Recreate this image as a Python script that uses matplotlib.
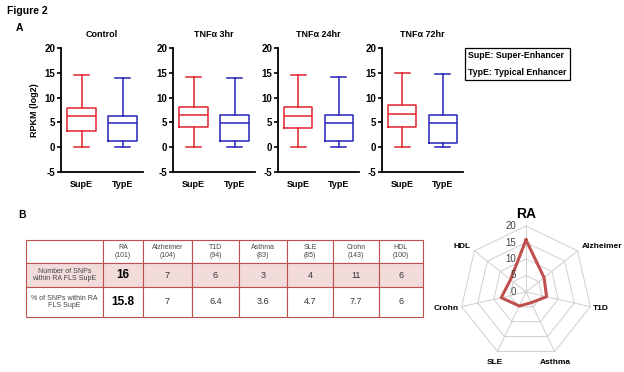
import numpy as np
import matplotlib
matplotlib.use("Agg")
import matplotlib.pyplot as plt

plt.rcParams['font.family'] = ['Liberation Sans', 'DejaVu Sans']
plt.rcParams['axes.unicode_minus'] = False

W, H = 624, 372

# ---- panel A data ----
panel_titles = ["Control", "TNF\u03b1 3hr", "TNF\u03b1 24hr", "TNF\u03b1 72hr"]
groups = ["SupE", "TypE"]
# [whislo, q1, med, q3, whishi] per panel, per group
supe_stats = [[0, 3.2, 6.2, 7.9, 14.5],
              [0, 4.1, 6.4, 8.1, 14.1],
              [0, 3.9, 6.3, 8.2, 14.6],
              [0, 4.0, 6.7, 8.5, 14.9]]
type_stats = [[0, 1.2, 4.8, 6.3, 14.0],
              [0, 1.3, 4.8, 6.4, 13.9],
              [0, 1.3, 4.9, 6.5, 14.1],
              [0, 0.9, 4.8, 6.5, 14.8]]

# ---- panel B data ----
diseases = ["RA", "Alzheimer", "T1D", "Asthma", "SLE", "Crohn", "HDL"]
n_snps_total = [101, 104, 94, 83, 85, 143, 100]
n_snps_supe = [16, 7, 6, 3, 4, 11, 6]
pct_snps_supe = ["15.8", "7", "6.4", "3.6", "4.7", "7.7", "6"]
radar_values = [15.8, 7, 6.4, 3.6, 4.7, 7.7, 6]
radar_ticks = [0, 5, 10, 15, 20]

red = "#e0222e"
blue = "#2424b8"
pink = "#f2dcdb"
border = "#c0504d"


def px_axes(fig, x0, y0, x1, y1, **kw):
    return fig.add_axes([x0 / W, 1 - y1 / H, (x1 - x0) / W, (y1 - y0) / H], **kw)


fig = plt.figure(figsize=(W / 100, H / 100), dpi=100)

fig.text(7 / W, 1 - 11 / H, "Figure 2", fontsize=7.5, fontweight="bold", va="center")
fig.text(16 / W, 1 - 28 / H, "A", fontsize=7.5, fontweight="bold", va="center")
fig.text(18 / W, 1 - 215 / H, "B", fontsize=7.5, fontweight="bold", va="center")

# ---- box plots ----
ax_x = [(61, 143), (173, 255), (278, 359), (382, 463)]
for i, (x0, x1) in enumerate(ax_x):
    ax = px_axes(fig, x0, 48, x1, 172)
    stats = []
    for st, lab in zip([supe_stats[i], type_stats[i]], groups):
        stats.append(dict(whislo=st[0], q1=st[1], med=st[2], q3=st[3], whishi=st[4],
                          label=lab, fliers=[]))
    bp = ax.bxp(stats, positions=[1, 2], widths=0.7, showfliers=False,
                capwidths=0.37, patch_artist=False)
    for j, c in enumerate([red, blue]):
        bp["boxes"][j].set(color=c, linewidth=1.1)
        bp["medians"][j].set(color=c, linewidth=1.1)
        for k in (2 * j, 2 * j + 1):
            bp["whiskers"][k].set(color=c, linewidth=1.1)
            bp["caps"][k].set(color=c, linewidth=1.1)
    ax.set_xlim(0.5, 2.5)
    ax.set_ylim(-5, 20)
    ax.set_yticks([-5, 0, 5, 10, 15, 20])
    ax.spines["top"].set_visible(False)
    ax.spines["right"].set_visible(False)
    ax.spines["left"].set_linewidth(1.3)
    ax.spines["bottom"].set_linewidth(1.3)
    ax.tick_params(axis="y", length=3, width=1.2, pad=1, labelsize=7)
    ax.tick_params(axis="x", length=0, pad=6, labelsize=6.5)
    for t in ax.get_xticklabels() + ax.get_yticklabels():
        t.set_fontweight("bold")
    ax.set_title(panel_titles[i], fontsize=6.5, fontweight="bold", pad=8)
    if i == 0:
        ax.set_ylabel("RPKM (log2)", fontsize=6.5, fontweight="bold", labelpad=4)

# legend box
fig.text(468 / W, 1 - 64 / H, "SupE: Super-Enhancer\n\nTypE: Typical Enhancer",
         fontsize=6.3, fontweight="bold", va="center", ha="left", linespacing=0.95,
         bbox=dict(boxstyle="square,pad=0.35", fc="white", ec="black", lw=0.9))

# ---- table ----
tax = px_axes(fig, 26, 240, 423, 317)
tax.axis("off")
header = [""] + [f"{d}\n({n})" for d, n in zip(diseases, n_snps_total)]
row1 = ["Number of SNPs\nwithin RA FLS SupE"] + [str(v) for v in n_snps_supe]
row2 = ["% of SNPs within RA\nFLS SupE"] + pct_snps_supe
col_px = [77, 40, 49, 47, 48, 46, 46, 44]
tbl = tax.table(cellText=[header, row1, row2], bbox=[0, 0, 1, 1],
                colWidths=[c / sum(col_px) for c in col_px], cellLoc="center")
tbl.auto_set_font_size(False)
row_h = [23, 24, 30]
for (r, c), cell in tbl.get_celld().items():
    cell.set_edgecolor(border)
    cell.set_linewidth(0.8)
    cell.set_height(row_h[r] / sum(row_h))
    txt = cell.get_text()
    txt.set_color("#333333")
    txt.set_linespacing(1.1)
    if r == 1:
        cell.set_facecolor(pink)
    if r == 0 or c == 0:
        txt.set_fontsize(5)
        txt.set_color("#444444")
    else:
        txt.set_fontsize(6.5)
    if c == 1 and r > 0:
        txt.set_fontsize(8.5)
        txt.set_fontweight("bold")
        txt.set_color("black")

# ---- radar ----
cx, cy, R = 526, 292, 66
span = 95
rax = px_axes(fig, cx - span, cy - span, cx + span, cy + span)
lim = span / R * 20
rax.set_xlim(-lim, lim)
rax.set_ylim(-lim, lim)
rax.axis("off")
ang = np.pi / 2 - np.arange(len(diseases)) * 2 * np.pi / len(diseases)
for r in radar_ticks[1:]:
    rax.plot(np.r_[r * np.cos(ang), r * np.cos(ang[0])],
             np.r_[r * np.sin(ang), r * np.sin(ang[0])], color="#cfcfcf", lw=0.7)
for a in ang:
    rax.plot([0, 20 * np.cos(a)], [0, 20 * np.sin(a)], color="#cfcfcf", lw=0.7)
v = np.array(radar_values)
rax.plot(np.r_[v * np.cos(ang), v[0] * np.cos(ang[0])],
         np.r_[v * np.sin(ang), v[0] * np.sin(ang[0])], color=border, lw=2.2)
for r in radar_ticks:
    rax.text(-3.0, r, str(r), ha="right", va="center", fontsize=7, color="#444444")
lab_pos = {"Alzheimer": (17.0, 13.8, "left"), "T1D": (20.4, -5.0, "left"),
           "Asthma": (9.0, -21.5, "center"), "SLE": (-9.5, -21.5, "center"),
           "Crohn": (-20.4, -5.0, "right"), "HDL": (-16.8, 13.8, "right")}
for d in diseases[1:]:
    x, y, ha = lab_pos[d]
    rax.text(x, y, d, ha=ha, va="center", fontsize=6, fontweight="bold")
rax.text(0, 23.5, "RA", ha="center", va="center", fontsize=10, fontweight="bold")

fig.savefig("out.png", dpi=100)
